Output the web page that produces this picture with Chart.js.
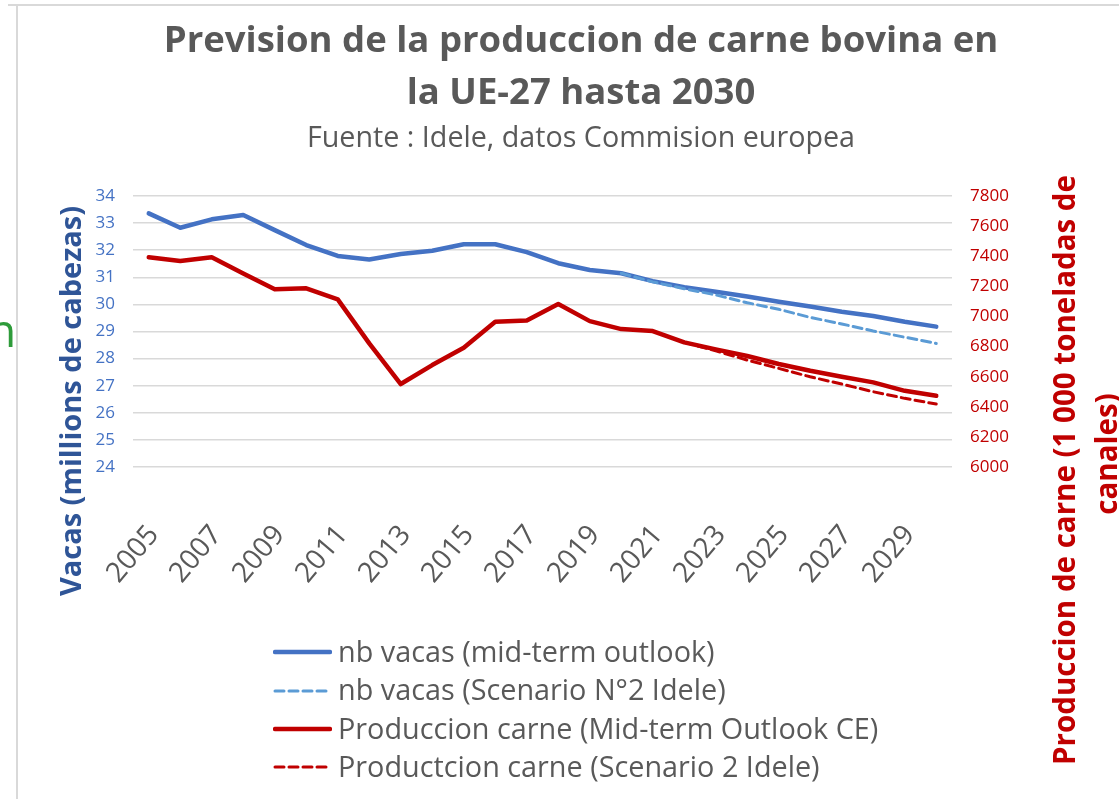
<!DOCTYPE html>
<html>
<head>
<meta charset="utf-8">
<script src="https://cdn.jsdelivr.net/npm/chart.js@4.4.1/dist/chart.umd.min.js"></script>
<style>
  html, body { margin: 0; padding: 0; background: #fff; }
  body { width: 1119px; height: 799px; position: relative; overflow: hidden; font-family: 'Open Sans', sans-serif; }
  #c { position: absolute; left: 0; top: 0; }
  .txt { position: absolute; white-space: nowrap; pointer-events: none; }
  #frameTop { position: absolute; left: 8px; top: 4px; width: 1200px; height: 0; border-top: 2px solid #D9D9D9; }
  #frameLeft { position: absolute; left: 16px; top: 4px; width: 0; height: 900px; border-left: 2px solid #D9D9D9; }
  #title { left: 0; width: 1162px; top: 12px; text-align: center; font-weight: bold; font-size: 36.5px; line-height: 52px; color: #595959; }
  #subtitle { left: 0; width: 1162px; top: 119px; text-align: center; font-size: 28.7px; line-height: 34px; color: #595959; }
  #yTitleL { left: -230px; top: 381px; width: 600px; height: 40px; line-height: 40px; text-align: center; transform: rotate(-90deg);
             font-weight: bold; font-size: 29px; color: #2F5597; }
  #yTitleR { left: 755px; top: 428px; width: 660px; height: 84px; line-height: 42px; text-align: center; transform: rotate(-90deg);
             font-weight: bold; font-size: 29.5px; color: #C00000; }
  #yTitleR span { position: relative; left: 16px; }
  #frag { left: -12px; top: 298px; font-size: 46px; font-weight: 400; color: #2E9B3A; }
  #legend { position: absolute; left: 273px; top: 632px; }
  .row { height: 38.3px; line-height: 38.3px; font-size: 28.8px; color: #595959; white-space: nowrap; }
  .row svg { vertical-align: middle; margin-right: 6px; position: relative; top: -2px; }
</style>
</head>
<body>
<div id="frameTop"></div>
<div id="frameLeft"></div>
<canvas id="c" width="1119" height="799"></canvas>
<div class="txt" id="frag">n</div>
<div class="txt" id="title">Prevision de la produccion de carne bovina en<br>la UE-27 hasta 2030</div>
<div class="txt" id="subtitle">Fuente : Idele, datos Commision europea</div>
<div class="txt" id="yTitleL">Vacas (millions de cabezas)</div>
<div class="txt" id="yTitleR">Produccion de carne (1 000 toneladas de<br><span>canales)</span></div>
<div id="legend"></div>
<script>
'use strict';
// DATOS
var years = ['2005','2006','2007','2008','2009','2010','2011','2012','2013','2014','2015','2016','2017',
             '2018','2019','2020','2021','2022','2023','2024','2025','2026','2027','2028','2029','2030'];

// nb vacas (millones) - eje izquierdo
var vacasMT = [33.36, 32.83, 33.14, 33.30, 32.74, 32.19, 31.79, 31.66, 31.86, 31.98, 32.22, 32.22, 31.93,
               31.52, 31.27, 31.15, 30.86, 30.63, 30.47, 30.29, 30.10, 29.92, 29.73, 29.57, 29.36, 29.18];
var vacasS2 = [null, null, null, null, null, null, null, null, null, null, null, null, null,
               null, null, 31.15, 30.83, 30.58, 30.35, 30.06, 29.82, 29.52, 29.28, 29.02, 28.79, 28.56];

// produccion carne (1 000 t) - eje derecho
var carneMT = [7393, 7368, 7393, 7286, 7180, 7187, 7113, 6821, 6551, 6677, 6792, 6965, 6973,
               7082, 6969, 6916, 6903, 6828, 6781, 6737, 6684, 6639, 6599, 6562, 6506, 6473];
var carneS2 = [null, null, null, null, null, null, null, null, null, null, null, null, null,
               null, null, null, null, 6828, 6772, 6710, 6655, 6599, 6551, 6500, 6456, 6418];

var seriesLabels = ['nb vacas (mid-term outlook)', 'nb vacas (Scenario N°2 Idele)',
                    'Produccion carne (Mid-term Outlook CE)', 'Productcion carne (Scenario 2 Idele)'];

Chart.defaults.font.family = "'Open Sans', sans-serif";

var datasets = [
  { label: seriesLabels[0], data: vacasMT, yAxisID: 'yL', borderColor: '#4472C4', borderWidth: 4.5, order: 2 },
  { label: seriesLabels[1], data: vacasS2, yAxisID: 'yL', borderColor: '#5B9BD5', borderWidth: 3, borderDash: [9, 5], order: 1 },
  { label: seriesLabels[2], data: carneMT, yAxisID: 'yR', borderColor: '#C00000', borderWidth: 4.5, order: 2 },
  { label: seriesLabels[3], data: carneS2, yAxisID: 'yR', borderColor: '#C00000', borderWidth: 3, borderDash: [9, 5], order: 1 }
];
datasets.forEach(function(d) {
  d.pointRadius = 0;
  d.tension = 0;
  d.fill = false;
  d.borderCapStyle = 'round';
  d.borderJoinStyle = 'round';
});

var ctx = document.getElementById('c').getContext('2d');
var chart = new Chart(ctx, {
  type: 'line',
  data: { labels: years, datasets: datasets },
  options: {
    responsive: false,
    animation: false,
    devicePixelRatio: 1,
    layout: { padding: { top: 196, bottom: 202, left: 0, right: 0 } },
    plugins: { legend: { display: false }, tooltip: { enabled: false } },
    scales: {
      x: {
        type: 'category',
        offset: true,
        grid: { display: false, drawTicks: false },
        border: { display: false },
        afterFit: function(s) { s.height = 130; },
        ticks: {
          autoSkip: false, minRotation: 50, maxRotation: 50, padding: 52, labelOffset: 5,
          color: '#595959', font: { size: 28 },
          callback: function(v, i) { return i % 2 === 0 ? years[i] : ''; }
        }
      },
      yL: {
        position: 'left', min: 24, max: 34,
        afterFit: function(s) { s.width = 133; },
        grid: { color: '#D9D9D9', lineWidth: 1.5, drawTicks: false },
        border: { display: false },
        ticks: { stepSize: 1, padding: 18, color: '#4472C4', font: { size: 17 } }
      },
      yR: {
        position: 'right', min: 6000, max: 7800,
        afterFit: function(s) { s.width = 167; },
        grid: { display: false, drawTicks: false },
        border: { display: false },
        ticks: { stepSize: 200, padding: 18, color: '#C00000', font: { size: 17 },
                 callback: function(v) { return String(v); } }
      }
    }
  }
});

// LEYENDA
var legend = document.getElementById('legend');
chart.data.datasets.forEach(function(d) {
  var row = document.createElement('div');
  row.className = 'row';
  var dash = d.borderDash ? d.borderDash.join(' ') : 'none';
  row.innerHTML = '<svg width="59" height="10"><line x1="2" y1="5" x2="57" y2="5" stroke="' + d.borderColor +
    '" stroke-width="' + d.borderWidth + '" stroke-linecap="round" stroke-dasharray="' + dash + '"/></svg>';
  row.appendChild(document.createTextNode(d.label));
  legend.appendChild(row);
});
</script>
</body>
</html>
